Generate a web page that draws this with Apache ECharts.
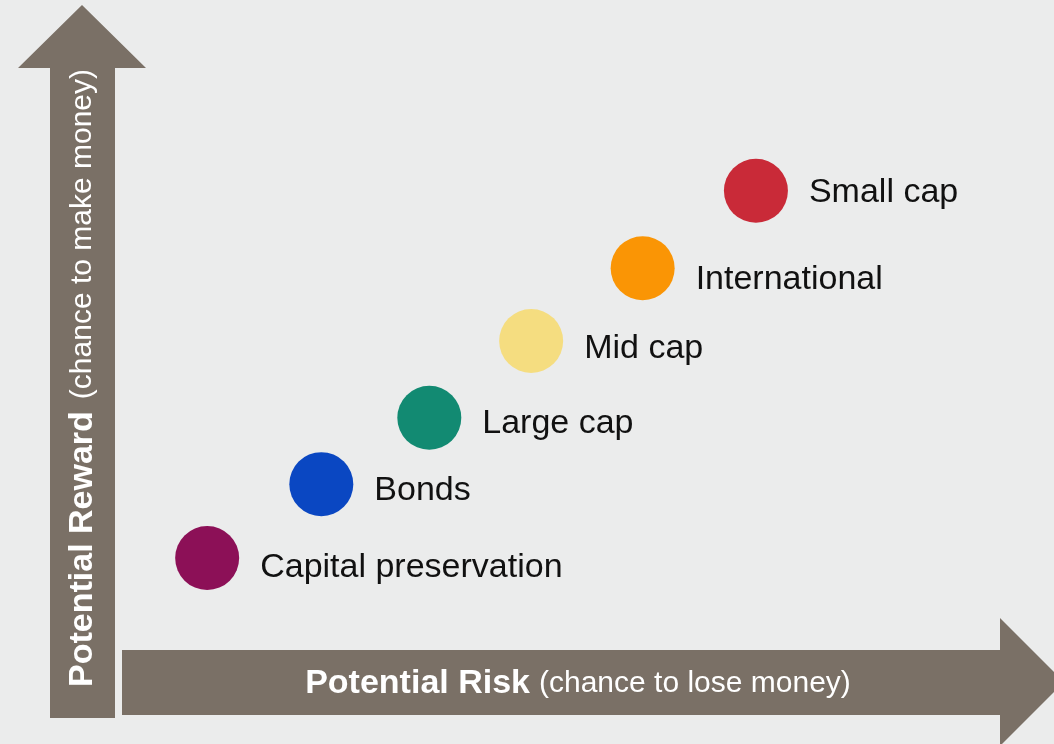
<!DOCTYPE html>
<html>
<head>
<meta charset="utf-8">
<script src="https://cdn.jsdelivr.net/npm/echarts@6/dist/echarts.min.js"></script>
<style>
html,body{margin:0;padding:0;background:#ebecec;}
#chart{width:1054px;height:744px;}
</style>
</head>
<body>
<div id="chart"></div>
<script>
// Data
const categories = ['Capital preservation', 'Bonds', 'Large cap', 'Mid cap', 'International', 'Small cap'];
const riskValues = [0.97, 2.27, 3.5, 4.66, 5.93, 7.22];
const rewardValues = [1.58, 2.85, 3.99, 5.31, 6.56, 7.89];
const colors = ['#8c1057', '#0a47c2', '#128a72', '#f5dd80', '#fa9505', '#c92a38'];
const xAxisTitle = ['Potential Risk', '(chance to lose money)'];
const yAxisTitle = ['Potential Reward', '(chance to make money)'];

// label styling (vertical nudge per label, in px)
const labelNudge = [10, 6, 6, 8, 11, 2];
const arrowColor = '#7a7066';
const font = '"Liberation Sans", Arial, sans-serif';

const chart = echarts.init(document.getElementById('chart'));
chart.setOption({
  backgroundColor: '#ebecec',
  animation: false,
  grid: { left: 122, right: 54, top: 68, bottom: 94 },
  xAxis: { type: 'value', min: 0, max: 10, show: false },
  yAxis: { type: 'value', min: 0, max: 10, show: false },
  graphic: [
    {
      type: 'polygon', z: 1,
      shape: { points: [[50,718],[115,718],[115,68],[146,68],[82,5],[18,68],[50,68]] },
      style: { fill: arrowColor }
    },
    {
      type: 'polygon', z: 1,
      shape: { points: [[122,650],[1000,650],[1000,618],[1064,682],[1000,746],[1000,715],[122,715]] },
      style: { fill: arrowColor }
    },
    {
      type: 'text', z: 2,
      x: 578, y: 684,
      style: {
        text: '{b|' + xAxisTitle[0] + '}{n|' + xAxisTitle[1] + '}',
        align: 'center', verticalAlign: 'middle',
        rich: {
          b: { fontFamily: font, fontWeight: 'bold', fontSize: 34, fill: '#ffffff', color: '#ffffff', padding: [0, 9, 0, 0] },
          n: { fontFamily: font, fontSize: 30, fill: '#ffffff', color: '#ffffff' }
        }
      }
    },
    {
      type: 'text', z: 2,
      x: 83, y: 378, rotation: Math.PI / 2,
      style: {
        text: '{b|' + yAxisTitle[0] + '}{n|' + yAxisTitle[1] + '}',
        align: 'center', verticalAlign: 'middle',
        rich: {
          b: { fontFamily: font, fontWeight: 'bold', fontSize: 34, fill: '#ffffff', color: '#ffffff', padding: [0, 12, 0, 0] },
          n: { fontFamily: font, fontSize: 30, fill: '#ffffff', color: '#ffffff' }
        }
      }
    }
  ],
  series: [{
    type: 'scatter',
    symbolSize: 64,
    itemStyle: { opacity: 1 },
    data: categories.map((c, i) => ({
      name: c,
      value: [riskValues[i], rewardValues[i]],
      itemStyle: { color: colors[i], opacity: 1 },
      label: { offset: [0, labelNudge[i]] }
    })),
    label: {
      show: true,
      position: 'right',
      distance: 21,
      formatter: p => p.name,
      fontFamily: font,
      fontSize: 34,
      color: '#111111',
      opacity: 1
    }
  }]
});
</script>
</body>
</html>
